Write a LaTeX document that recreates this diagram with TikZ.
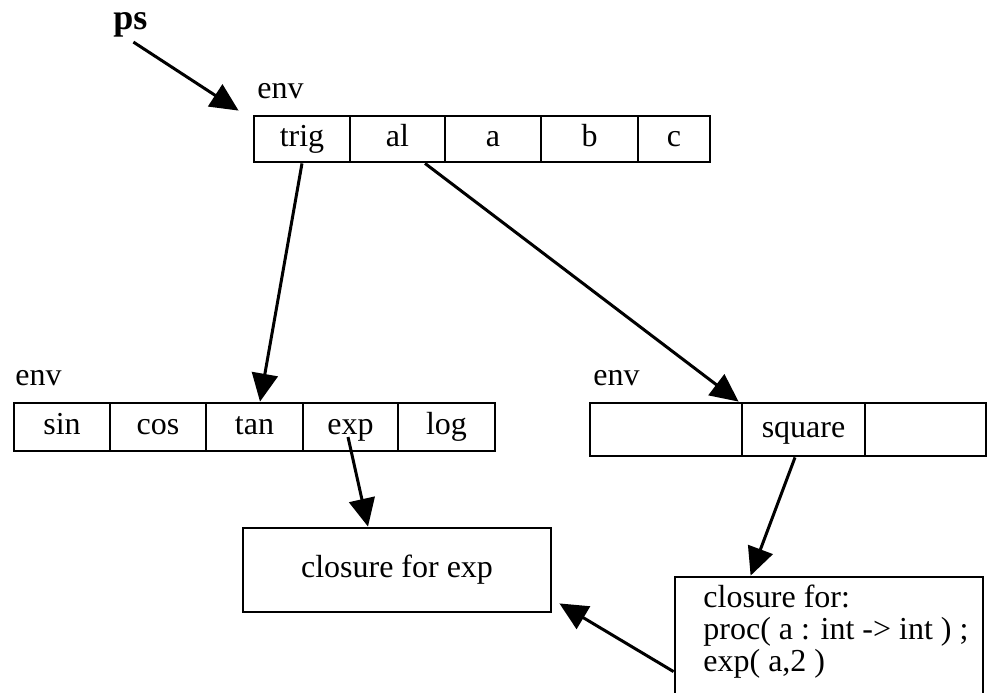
\documentclass[tikz,border=0pt]{standalone}
\usepackage{fontspec}
\setmainfont{Liberation Serif}
\usetikzlibrary{arrows.meta,calc}
\begin{document}
\begin{tikzpicture}[x=0.5pt,y=-0.5pt,
  txt/.style={font=\fontsize{16}{16}\selectfont, inner sep=0pt},
  cell/.style={txt, draw, line width=1.4pt, text height=11pt, text depth=3.5pt},
  lbl/.style={txt, anchor=base west},
  ptr/.style={-{Triangle[length=14pt,width=13pt]}, line width=1.5pt}]
\useasboundingbox (0,0) rectangle (988,692);

% pointer name
\node[lbl, font=\fontsize{18}{18}\selectfont\bfseries] (ps) at (113,29) {ps};

% top environment
\node[lbl] (envtop) at (257,98) {env};
\node[cell, minimum width=48pt,   minimum height=23pt] (t1) at (302,139)   {trig};
\node[cell, minimum width=47.5pt, minimum height=23pt] (t2) at (397.5,139) {al};
\node[cell, minimum width=48pt,   minimum height=23pt] (t3) at (493,139)   {a};
\node[cell, minimum width=48.5pt, minimum height=23pt] (t4) at (589.5,139) {b};
\node[cell, minimum width=36pt,   minimum height=23pt] (t5) at (674,139)   {c};

% left environment
\node[lbl] (envleft) at (15,385) {env};
\node[cell, minimum width=48pt,   minimum height=24pt] (l1) at (62,427)    {sin};
\node[cell, minimum width=48pt,   minimum height=24pt] (l2) at (158,427)   {cos};
\node[cell, minimum width=48.5pt, minimum height=24pt] (l3) at (254.5,427) {tan};
\node[cell, minimum width=47.5pt, minimum height=24pt] (l4) at (350.5,427) {exp};
\node[cell, minimum width=48.5pt, minimum height=24pt] (l5) at (446.5,427) {log};

% right environment
\node[lbl] (envright) at (593,385) {env};
\node[cell, minimum width=76pt,   minimum height=26.5pt] (r1) at (666,429.5)   {};
\node[cell, minimum width=61.5pt, minimum height=26.5pt] (r2) at (803.5,429.5) {square};
\node[cell, minimum width=60.5pt, minimum height=26.5pt] (r3) at (925.5,429.5) {};

% closures
\node[cell, minimum width=154pt, minimum height=42pt] (ce) at (397,570) {closure for exp};
\node[draw, line width=1.4pt, inner sep=0pt, minimum width=154pt, minimum height=66.5pt] (cf) at (829,643.5) {};
\node[txt, align=left, anchor=north west] (cftext) at (703,585)
  {closure for:\\proc( a : int -> int ) ;\\exp( a,2 )};

% pointers
\draw[ptr] ($(ps.south)+(3,5)$) -- ($(t1.north west)+(-14,-4)$);
\draw[ptr] (t1.south) -- ($(l3.north)+(5.5,0)$);
\draw[ptr] ($(t2.south)+(27.5,0)$) -- ($(r2.north west)+(-2,0)$);
\draw[ptr] ($(l4.center)+(-2.5,10)$) -- ($(ce.north)+(-29,0)$);
\draw[ptr] ($(r2.south)+(-8.5,0)$) -- ($(cf.north west)+(77,0)$);
\draw[ptr] ($(cf.north west)+(0,96)$) -- ($(ce.south east)+(7,-10)$);
\end{tikzpicture}
\end{document}
